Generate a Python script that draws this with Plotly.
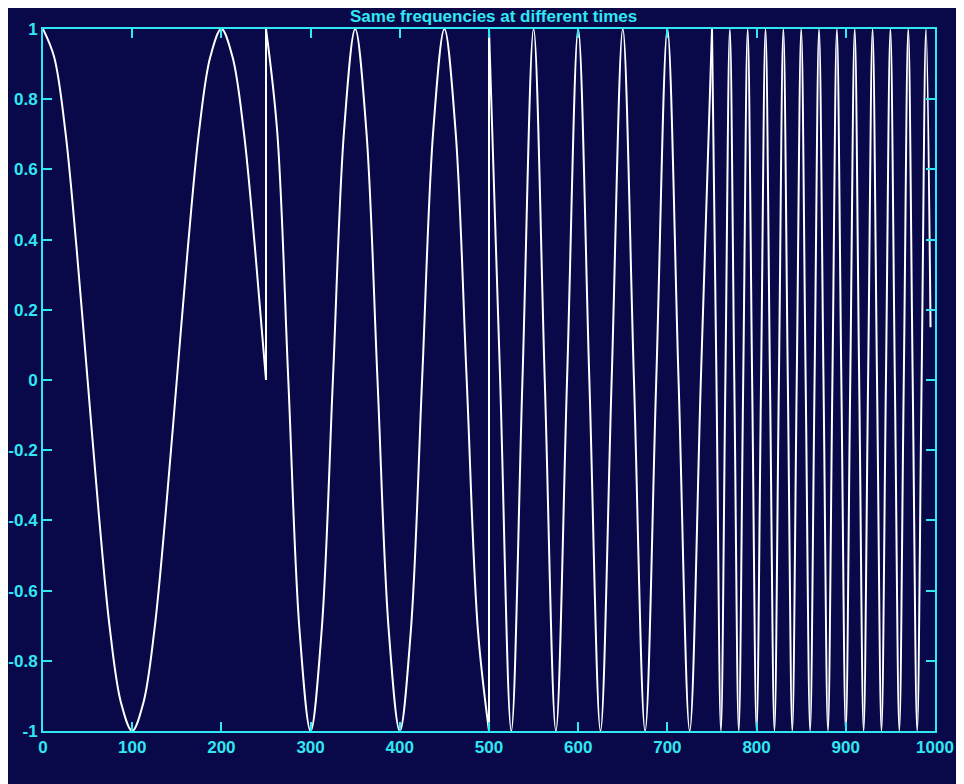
import plotly.graph_objects as go

# Sample index / amplitude at regular points of each segment
seg1_x = [0, 12.5, 25, 37.5, 50, 62.5, 75, 87.5, 100, 112.5, 125,
          137.5, 150, 162.5, 175, 187.5, 200, 212.5, 225, 237.5, 250]
seg1_y = [1, 0.92, 0.71, 0.38, 0, -0.38, -0.71, -0.92, -1, -0.92, -0.71,
          -0.38, 0, 0.38, 0.71, 0.92, 1, 0.92, 0.71, 0.38, 0]

seg2_x = [250, 262.5, 275, 287.5, 300, 312.5, 325, 337.5, 350, 362.5, 375,
          387.5, 400, 412.5, 425, 437.5, 450, 462.5, 475, 487.5, 500]
seg2_y = [1, 0.71, 0, -0.71, -1, -0.71, 0, 0.71, 1, 0.71, 0,
          -0.71, -1, -0.71, 0, 0.71, 1, 0.71, 0, -0.71, -1]

seg3_x = [500, 512.5, 525, 537.5, 550, 562.5, 575, 587.5, 600, 612.5, 625,
          637.5, 650, 662.5, 675, 687.5, 700, 712.5, 725, 737.5, 750]
seg3_y = [1, 0, -1, 0, 1, 0, -1, 0, 1, 0, -1,
          0, 1, 0, -1, 0, 1, 0, -1, 0, 1]

seg4_x = [750, 755, 760, 765, 770, 775, 780, 785, 790, 795,
          800, 805, 810, 815, 820, 825, 830, 835, 840, 845,
          850, 855, 860, 865, 870, 875, 880, 885, 890, 895,
          900, 905, 910, 915, 920, 925, 930, 935, 940, 945,
          950, 955, 960, 965, 970, 975, 980, 985, 990, 995]
seg4_y = [1, 0, -1, 0, 1, 0, -1, 0, 1, 0,
          -1, 0, 1, 0, -1, 0, 1, 0, -1, 0,
          1, 0, -1, 0, 1, 0, -1, 0, 1, 0,
          -1, 0, 1, 0, -1, 0, 1, 0, -1, 0,
          1, 0, -1, 0, 1, 0, -1, 0, 1, 0.15]

x_ticks = [0, 100, 200, 300, 400, 500, 600, 700, 800, 900, 1000]
y_ticks = [-1, -0.8, -0.6, -0.4, -0.2, 0, 0.2, 0.4, 0.6, 0.8, 1]
y_tick_labels = ["-1", "-0.8", "-0.6", "-0.4", "-0.2", "0", "0.2", "0.4", "0.6", "0.8", "1"]
title_text = "Same frequencies at different times"

BG = "#09094a"
CYAN = "#30e8f2"
LINE = "#ffffff"

segments = [(seg1_x, seg1_y), (seg2_x, seg2_y), (seg3_x, seg3_y), (seg4_x, seg4_y)]

fig = go.Figure()
for sx, sy in segments:
    fig.add_trace(go.Scatter(x=sx, y=sy, mode="lines",
                             line=dict(color=LINE, width=2, shape="spline", smoothing=1.0),
                             showlegend=False, hoverinfo="skip"))

# jumps between consecutive segments
jx, jy = [], []
for (ax_, ay_), (bx_, by_) in zip(segments[:-1], segments[1:]):
    jx += [ax_[-1], bx_[0], None]
    jy += [ay_[-1], by_[0], None]
fig.add_trace(go.Scatter(x=jx, y=jy, mode="lines",
                         line=dict(color=LINE, width=2),
                         showlegend=False, hoverinfo="skip"))

axis_common = dict(
    showline=True, linecolor=CYAN, linewidth=2, mirror="ticks",
    ticks="inside", ticklen=9, tickwidth=1.5, tickcolor=CYAN,
    showgrid=False, zeroline=False, automargin=False,
    tickfont=dict(family="Liberation Sans", size=17, color=CYAN, weight="bold"),
)

fig.update_layout(
    width=956, height=776, autosize=False,
    paper_bgcolor=BG, plot_bgcolor=BG,
    margin=dict(l=35, r=29, t=21, b=53),
    title=dict(text=title_text, x=0.508, xanchor="center", y=0.99, yanchor="middle",
               yref="container",
               font=dict(family="Liberation Sans", size=17, color=CYAN, weight="bold")),
    xaxis=dict(range=[0, 1000], tickvals=x_ticks, ticktext=[str(v) for v in x_ticks], **axis_common),
    yaxis=dict(range=[-1, 1], tickvals=y_ticks, ticktext=y_tick_labels, **axis_common),
)

fig.write_html("out.html")
